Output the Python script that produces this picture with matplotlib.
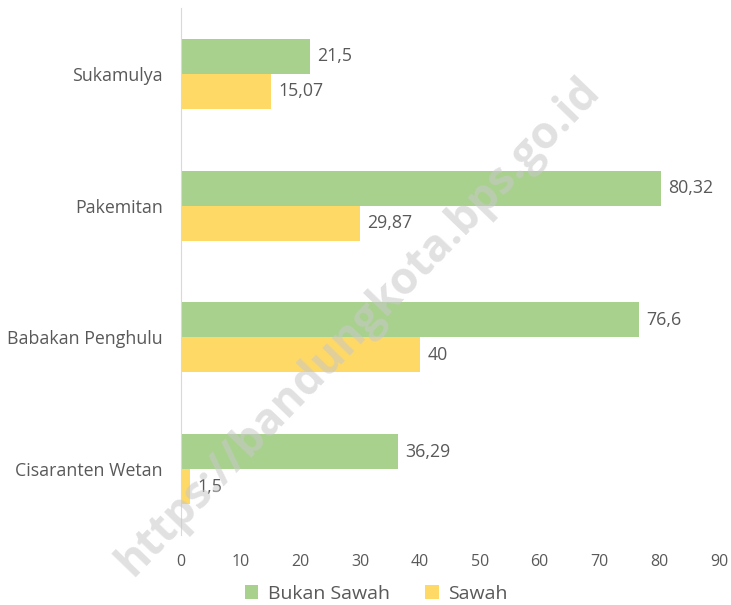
import matplotlib.pyplot as plt
import numpy as np

categories = ["Cisaranten Wetan", "Babakan Penghulu", "Pakemitan", "Sukamulya"]
bukan_sawah = [36.29, 76.6, 80.32, 21.5]
sawah = [1.5, 40, 29.87, 15.07]
bukan_labels = ["36,29", "76,6", "80,32", "21,5"]
sawah_labels = ["1,5", "40", "29,87", "15,07"]

GREEN = "#A9D18E"
YELLOW = "#FFD966"
TEXT = "#595959"

plt.rcParams["font.family"] = ["Open Sans", "DejaVu Sans"]

fig = plt.figure(figsize=(7.31, 6.05), dpi=100)
ax = fig.add_axes([0.2476, 0.1157, 0.7360, 0.8711])

y = np.arange(len(categories))
h = 0.265
ax.barh(y + h / 2, bukan_sawah, height=h, color=GREEN, label="Bukan Sawah")
ax.barh(y - h / 2, sawah, height=h, color=YELLOW, label="Sawah")

for yi, v, lab in zip(y, bukan_sawah, bukan_labels):
    ax.text(v + 1.2, yi + h / 2, lab, va="center", ha="left", fontsize=12.8, color=TEXT)
for yi, v, lab in zip(y, sawah, sawah_labels):
    ax.text(v + 1.2, yi - h / 2, lab, va="center", ha="left", fontsize=12.8, color=TEXT)

ax.set_xlim(0, 90)
ax.set_ylim(-0.5, 3.5)
ax.set_xticks(np.arange(0, 91, 10))
ax.set_yticks(y)
ax.set_yticklabels(categories, fontsize=12.8)
ax.tick_params(axis="both", length=0, colors=TEXT)
ax.tick_params(axis="x", pad=14, labelsize=11.5)
ax.tick_params(axis="y", pad=13)
for s in ["top", "right", "bottom"]:
    ax.spines[s].set_visible(False)
ax.spines["left"].set_color("#D9D9D9")

fig.legend(
    loc="lower center",
    bbox_to_anchor=(0.515, -0.025),
    ncol=2,
    frameon=False,
    fontsize=14,
    handlelength=0.7,
    handleheight=0.7,
    columnspacing=1.8,
    handletextpad=0.5,
    labelcolor=TEXT,
)

fig.text(
    0.49, 0.46, "https://bandungkota.bps.go.id",
    rotation=46, ha="center", va="center", fontsize=32,
    color="#C8C8C8", alpha=0.55, fontweight="bold",
)

fig.savefig("out.png", dpi=100)
